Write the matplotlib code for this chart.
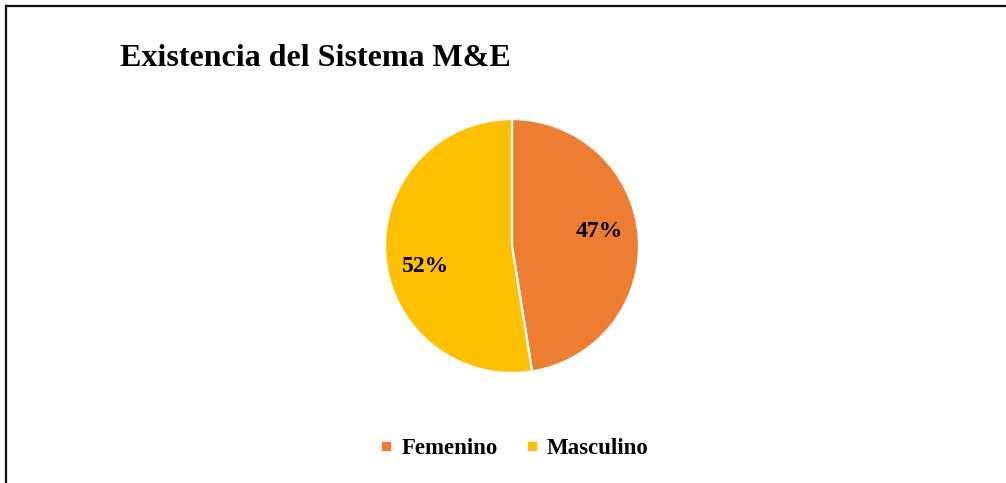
import matplotlib
matplotlib.use("Agg")
import matplotlib.pyplot as plt
from matplotlib.lines import Line2D
import math

categories = ["Femenino", "Masculino"]
values = [47, 52]
colors = ["#ED7D31", "#FFC000"]
title = "Existencia del Sistema M&E"

plt.rcParams['font.family'] = ['Liberation Serif', 'DejaVu Serif']
plt.rcParams['font.weight'] = 'bold'

W, H = 1006, 483
fig = plt.figure(figsize=(W / 100, H / 100), dpi=100)

cx, cy, r = 512, 246, 127
ax = fig.add_axes([(cx - r) / W, (H - cy - r) / H, 2 * r / W, 2 * r / H])
total = sum(values)
wedges, texts, autotexts = ax.pie(
    values, colors=colors, startangle=90, counterclock=False,
    autopct=lambda p: f"{p * total / 100:.0f}%", pctdistance=0.70,
    wedgeprops=dict(edgecolor="white", linewidth=1.6),
    textprops=dict(fontsize=17, fontweight="bold", color="black"))
ax.set_xlim(-1, 1)
ax.set_ylim(-1, 1)
ax.set_aspect("equal")

# nudge labels like Excel's best-fit placement
for t, dang in zip(autotexts, [5, 9]):
    x, y = t.get_position()
    rr = math.hypot(x, y)
    a = math.atan2(y, x) + math.radians(dang)
    t.set_position((rr * math.cos(a), rr * math.sin(a)))

fig.text(120 / W, 1 - 66 / H, title, fontsize=23, fontweight="bold",
         ha="left", va="baseline")

handles = [Line2D([], [], marker="s", linestyle="none", markersize=5.5,
                  markerfacecolor=c, markeredgecolor=c) for c in colors]
fig.legend(handles, categories, loc="center", ncol=2, frameon=False,
           bbox_to_anchor=(514 / W, 1 - 448 / H),
           prop=dict(size=16.5, weight="bold"),
           handlelength=0.6, handletextpad=0.35, columnspacing=1.2)

# frame lines (top and left)
fig.add_artist(Line2D([6 / W, 1], [1 - 5.5 / H, 1 - 5.5 / H],
                      transform=fig.transFigure, color="#111111", lw=1.6))
fig.add_artist(Line2D([6 / W, 6 / W], [0, 1 - 5.5 / H],
                      transform=fig.transFigure, color="#111111", lw=1.6))

fig.savefig("out.png", dpi=100, facecolor="white")
